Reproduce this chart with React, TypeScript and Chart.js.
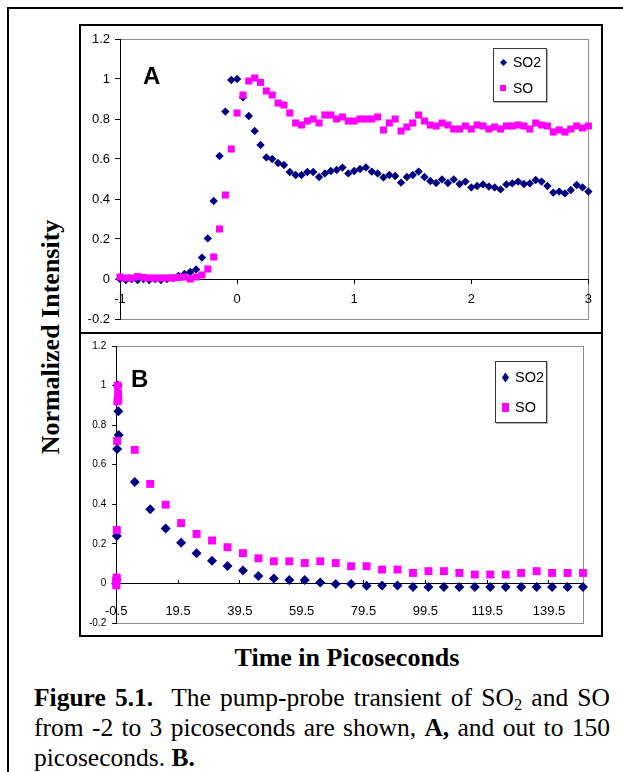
import React, { useEffect, useRef } from "react";
import { Chart, registerables } from "chart.js";

Chart.register(...registerables);

// ---------- Panel A data (time in ps, step) ----------
const timeA = [
  -1.0, -0.95, -0.9, -0.85, -0.8, -0.75, -0.7, -0.65, -0.6, -0.55,
  -0.5, -0.45, -0.4, -0.35, -0.3, -0.25, -0.2, -0.15, -0.1, -0.05,
  0.0, 0.05, 0.1, 0.15, 0.2, 0.25, 0.3, 0.35, 0.4, 0.45,
  0.5, 0.55, 0.6, 0.65, 0.7, 0.75, 0.8, 0.85, 0.9, 0.95,
  1.0, 1.05, 1.1, 1.15, 1.2, 1.25, 1.3, 1.35, 1.4, 1.45,
  1.5, 1.55, 1.6, 1.65, 1.7, 1.75, 1.8, 1.85, 1.9, 1.95,
  2.0, 2.05, 2.1, 2.15, 2.2, 2.25, 2.3, 2.35, 2.4, 2.45,
  2.5, 2.55, 2.6, 2.65, 2.7, 2.75, 2.8, 2.85, 2.9, 2.95,
  3.0,
];

const so2A = [
  0.0, -0.005, 0.0, -0.005, 0.0, -0.005, 0.0, -0.005, 0.0, 0.005,
  0.015, 0.025, 0.035, 0.048, 0.107, 0.203, 0.39, 0.615, 0.837, 0.995,
  1.0, 0.908, 0.815, 0.74, 0.67, 0.608, 0.6, 0.58, 0.57, 0.535,
  0.52, 0.52, 0.535, 0.535, 0.51, 0.528, 0.54, 0.545, 0.557, 0.528,
  0.54, 0.55, 0.558, 0.537, 0.528, 0.508, 0.52, 0.515, 0.482, 0.51,
  0.52, 0.537, 0.51, 0.49, 0.48, 0.498, 0.48, 0.498, 0.475, 0.487,
  0.458, 0.465, 0.473, 0.462, 0.458, 0.448, 0.473, 0.478, 0.487, 0.475,
  0.478, 0.495, 0.487, 0.465, 0.432, 0.437, 0.428, 0.445, 0.47, 0.458,
  0.437,
];

const soA = [
  0.01, 0.005, 0.005, 0.012, 0.008, 0.005, 0.005, 0.005, 0.005, 0.005,
  0.008, 0.01, 0.0, 0.01, 0.02, 0.05, 0.11, 0.25, 0.42, 0.65,
  0.83, 0.92, 0.99, 1.005, 0.983, 0.94, 0.92, 0.88, 0.87, 0.83,
  0.78, 0.77, 0.79, 0.8, 0.78, 0.82, 0.82, 0.8, 0.81, 0.79,
  0.79, 0.8, 0.8, 0.8, 0.81, 0.745, 0.78, 0.8, 0.74, 0.76,
  0.78, 0.82, 0.79, 0.77, 0.765, 0.78, 0.77, 0.75, 0.75, 0.765,
  0.75, 0.77, 0.765, 0.75, 0.76, 0.75, 0.765, 0.765, 0.77, 0.765,
  0.75, 0.78, 0.77, 0.765, 0.735, 0.745, 0.735, 0.75, 0.765, 0.755,
  0.765,
];

// ---------- Panel B data ----------
const timeBSO2 = [
  -0.5, -0.4, -0.3, -0.2, 0.0, 0.2, 0.3,
  5.5, 10.5, 15.5, 20.5, 25.5, 30.5, 35.5, 40.5, 45.5, 50.5,
  55.5, 60.5, 65.5, 70.5, 75.5, 80.5, 85.5, 90.5, 95.5, 100.5,
  105.5, 110.5, 115.5, 120.5, 125.5, 130.5, 135.5, 140.5, 145.5, 150.5,
];
const so2B = [
  0.0, 0.02, 0.24, 0.68, 1.0, 0.87, 0.75,
  0.513, 0.375, 0.277, 0.205, 0.153, 0.115, 0.088, 0.065, 0.038, 0.025,
  0.017, 0.017, 0.005, -0.003, -0.003, -0.012, -0.01, -0.01, -0.018, -0.018,
  -0.018, -0.018, -0.018, -0.018, -0.018, -0.018, -0.018, -0.018, -0.018, -0.018,
];
const timeBSO = [
  -0.5, -0.45, -0.4, -0.35, -0.3, -0.2, -0.1, 0.0, 0.1, 0.2,
  5.5, 10.5, 15.5, 20.5, 25.5, 30.5, 35.5, 40.5, 45.5, 50.5,
  55.5, 60.5, 65.5, 70.5, 75.5, 80.5, 85.5, 90.5, 95.5, 100.5,
  105.5, 110.5, 115.5, 120.5, 125.5, 130.5, 135.5, 140.5, 145.5, 150.5,
];
const soB = [
  0.0, -0.01, 0.02, 0.03, 0.27, 0.72, 0.92, 1.0, 0.96, 0.93,
  0.675, 0.503, 0.398, 0.305, 0.25, 0.217, 0.183, 0.153, 0.127, 0.112,
  0.112, 0.103, 0.112, 0.103, 0.087, 0.087, 0.07, 0.07, 0.053, 0.062,
  0.062, 0.053, 0.045, 0.045, 0.045, 0.053, 0.062, 0.053, 0.053, 0.053,
];

// ---------- ticks / labels ----------
const ticksAX = [-1, 0, 1, 2, 3];
const ticksBX = [-0.5, 19.5, 39.5, 59.5, 79.5, 99.5, 119.5, 139.5];
const ticksY = [-0.2, 0, 0.2, 0.4, 0.6, 0.8, 1, 1.2];
const seriesNames = ["SO2", "SO"];

const NAVY = "#000080";
const MAGENTA = "#FF00FF";
const SANS = "'Liberation Sans', Arial, sans-serif";
const SERIF = "'Liberation Serif', 'Times New Roman', serif";

const fmt = (v: number) => String(Math.round(v * 10) / 10);

const plotFrame = {
  id: "plotFrame",
  beforeDraw(chart: any) {
    const { ctx, chartArea: a } = chart;
    ctx.save();
    ctx.strokeStyle = "#8c8c8c";
    ctx.lineWidth = 1;
    ctx.strokeRect(
      Math.round(a.left) + 0.5,
      Math.round(a.top) + 0.5,
      Math.round(a.right - a.left),
      Math.round(a.bottom - a.top)
    );
    ctx.restore();
  },
};

function pts(xs: number[], ys: number[]) {
  return xs.map((x, i) => ({ x, y: ys[i] }));
}

function makeConfig(p: any) {
  return {
    type: "scatter",
    data: {
      datasets: [
        {
          label: seriesNames[0],
          data: pts(p.so2x, p.so2y),
          pointStyle: "rectRot",
          pointRadius: p.rDiamond,
          pointHoverRadius: p.rDiamond,
          backgroundColor: NAVY,
          borderColor: NAVY,
          borderWidth: 0,
          showLine: false,
          clip: false,
          order: 1,
        },
        {
          label: seriesNames[1],
          data: pts(p.sox, p.soy),
          pointStyle: "rect",
          pointRadius: p.rSquare,
          pointHoverRadius: p.rSquare,
          backgroundColor: MAGENTA,
          borderColor: MAGENTA,
          borderWidth: 0,
          showLine: false,
          clip: false,
          order: 0,
        },
      ],
    },
    options: {
      responsive: false,
      maintainAspectRatio: false,
      animation: false,
      devicePixelRatio: 1,
      events: [],
      layout: { padding: p.padding },
      plugins: { legend: { display: false }, tooltip: { enabled: false }, title: { display: false } },
      scales: {
        x: {
          type: "linear",
          min: p.xMin,
          max: p.xMax,
          position: { y: 0 },
          afterBuildTicks: (s: any) => {
            s.ticks = p.xTicks.map((v: number) => ({ value: v }));
          },
          grid: {
            display: true,
            drawOnChartArea: false,
            drawTicks: true,
            tickLength: p.xTickLen,
            color: "#000",
            lineWidth: 1,
          },
          border: { display: true, color: "#000", width: 1 },
          ticks: {
            autoSkip: false,
            maxRotation: 0,
            minRotation: 0,
            padding: p.xPad,
            color: "#000",
            font: { family: SANS, size: p.xFont },
            callback: (v: number) => fmt(v),
          },
        },
        y: {
          type: "linear",
          min: -0.2,
          max: 1.2,
          position: "left",
          afterBuildTicks: (s: any) => {
            s.ticks = ticksY.map((v) => ({ value: v }));
          },
          afterFit: (s: any) => {
            s.width = p.yWidth;
          },
          grid: {
            display: true,
            drawOnChartArea: false,
            drawTicks: true,
            tickLength: p.yTickLen,
            color: "#000",
            lineWidth: 1,
          },
          border: { display: true, color: "#000", width: 1 },
          ticks: {
            autoSkip: false,
            padding: p.yPad,
            color: "#000",
            font: { family: SANS, size: p.yFont },
            callback: (v: number) => fmt(v),
          },
        },
      },
    },
    plugins: [plotFrame],
  };
}

const configA = {
  so2x: timeA, so2y: so2A, sox: timeA, soy: soA,
  rDiamond: 4.2, rSquare: 5,
  xMin: -1, xMax: 3, xTicks: ticksAX,
  xTickLen: 4, xPad: 9, xFont: 13,
  yWidth: 39, yTickLen: 5, yPad: 5, yFont: 13,
  padding: { left: 0, top: 13, right: 8, bottom: 13 },
};

const configB = {
  so2x: timeBSO2, so2y: so2B, sox: timeBSO, soy: soB,
  rDiamond: 5, rSquare: 5.6,
  xMin: -0.5, xMax: 150.5, xTicks: ticksBX,
  xTickLen: -4, xPad: 24, xFont: 13,
  yWidth: 30, yTickLen: 4, yPad: 6, yFont: 10,
  padding: { left: 0, top: 8, right: 18, bottom: 11 },
};

function ChartCanvas({ cfg, left, top, width, height }: any) {
  const ref = useRef<HTMLCanvasElement | null>(null);
  useEffect(() => {
    if (!ref.current) return;
    const chart = new Chart(ref.current, makeConfig(cfg) as any);
    return () => chart.destroy();
  }, []);
  return (
    <canvas
      ref={ref}
      width={width}
      height={height}
      style={{ position: "absolute", left, top, width, height }}
    />
  );
}

function Diamond({ cx, cy, w, h }: any) {
  const s = w / Math.SQRT2;
  return (
    <div
      style={{
        position: "absolute",
        left: cx - s / 2,
        top: cy - s / 2,
        width: s,
        height: s,
        background: NAVY,
        transform: `scaleY(${h / w}) rotate(45deg)`,
      }}
    />
  );
}

function Square({ cx, cy, w, h }: any) {
  return (
    <div
      style={{
        position: "absolute",
        left: cx - w / 2,
        top: cy - h / 2,
        width: w,
        height: h,
        background: MAGENTA,
      }}
    />
  );
}

function Legend({ box, rows, textLeft, fontSize, marker }: any) {
  return (
    <>
      <div
        style={{
          position: "absolute",
          left: box.left,
          top: box.top,
          width: box.width,
          height: box.height,
          boxSizing: "border-box",
          border: "1px solid #3a3a3a",
          boxShadow: "1px 1px 0 #b0b0b0",
          background: "#fff",
        }}
      />
      <Diamond cx={marker.x} cy={rows[0]} w={marker.dw} h={marker.dh} />
      <Square cx={marker.x} cy={rows[1]} w={marker.sw} h={marker.sh} />
      {seriesNames.map((n, i) => (
        <div
          key={n}
          style={{
            position: "absolute",
            left: textLeft,
            top: rows[i] - 8,
            lineHeight: "16px",
            fontFamily: SANS,
            fontSize,
            color: "#000",
            whiteSpace: "nowrap",
          }}
        >
          {n}
        </div>
      ))}
    </>
  );
}

export default function App() {
  const abs = (l: number, t: number, extra: any = {}) => ({ position: "absolute" as const, left: l, top: t, ...extra });
  return (
    <div
      style={{
        position: "fixed",
        left: 0,
        top: 0,
        width: 623,
        height: 772,
        overflow: "hidden",
        background: "#fff",
      }}
    >
      {/* outer figure border */}
      <div
        style={abs(7, 7, {
          width: 700,
          height: 800,
          borderTop: "2px solid #000",
          borderLeft: "2px solid #000",
        })}
      />
      {/* panel frames */}
      <div style={abs(79, 24, { width: 524, height: 310, boxSizing: "border-box", border: "2px solid #000" })} />
      <div style={abs(79, 332, { width: 524, height: 305, boxSizing: "border-box", border: "2px solid #000" })} />

      <ChartCanvas cfg={configA} left={81} top={26} width={520} height={306} />
      <ChartCanvas cfg={configB} left={81} top={334} width={520} height={301} />

      {/* panel letters */}
      <div style={abs(143, 64, { fontFamily: SANS, fontWeight: "bold", fontSize: 24, lineHeight: "24px" })}>A</div>
      <div style={abs(131, 367, { fontFamily: SANS, fontWeight: "bold", fontSize: 24, lineHeight: "24px" })}>B</div>

      <Legend
        box={{ left: 493, top: 48, width: 54, height: 54 }}
        rows={[62, 88]}
        textLeft={513}
        fontSize={14}
        marker={{ x: 503, dw: 7, dh: 7, sw: 6, sh: 6 }}
      />
      <Legend
        box={{ left: 495, top: 361, width: 52, height: 62 }}
        rows={[377, 407]}
        textLeft={515}
        fontSize={14.5}
        marker={{ x: 505, dw: 7, dh: 10, sw: 7, sh: 9 }}
      />

      {/* axis titles */}
      <div
        style={abs(51 - 150, 337 - 13, {
          width: 300,
          height: 26,
          lineHeight: "26px",
          textAlign: "center",
          fontFamily: SERIF,
          fontWeight: "bold",
          fontSize: 26,
          transform: "rotate(-90deg)",
          whiteSpace: "nowrap",
        })}
      >
        Normalized Intensity
      </div>
      <div
        style={abs(347 - 200, 645, {
          width: 400,
          lineHeight: "26px",
          textAlign: "center",
          fontFamily: SERIF,
          fontWeight: "bold",
          fontSize: 26,
          whiteSpace: "nowrap",
        })}
      >
        Time in Picoseconds
      </div>

      {/* caption */}
      <div style={abs(34, 683, { width: 576, fontFamily: SERIF, fontSize: 25.5, lineHeight: "30px", color: "#000" })}>
        <div style={{ textAlign: "justify", textAlignLast: "justify", whiteSpace: "nowrap" as const }}>
          <b>Figure 5.1.</b>{"\u00a0 "}The pump-probe transient of SO
          <sub style={{ fontSize: "0.65em", lineHeight: 0, verticalAlign: "-0.22em" }}>2</sub> and SO
        </div>
        <div style={{ textAlign: "justify", textAlignLast: "justify" }}>
          from -2 to 3 picoseconds are shown, <b>A,</b> and out to 150
        </div>
        <div>
          picoseconds. <b>B.</b>
        </div>
      </div>
    </div>
  );
}
